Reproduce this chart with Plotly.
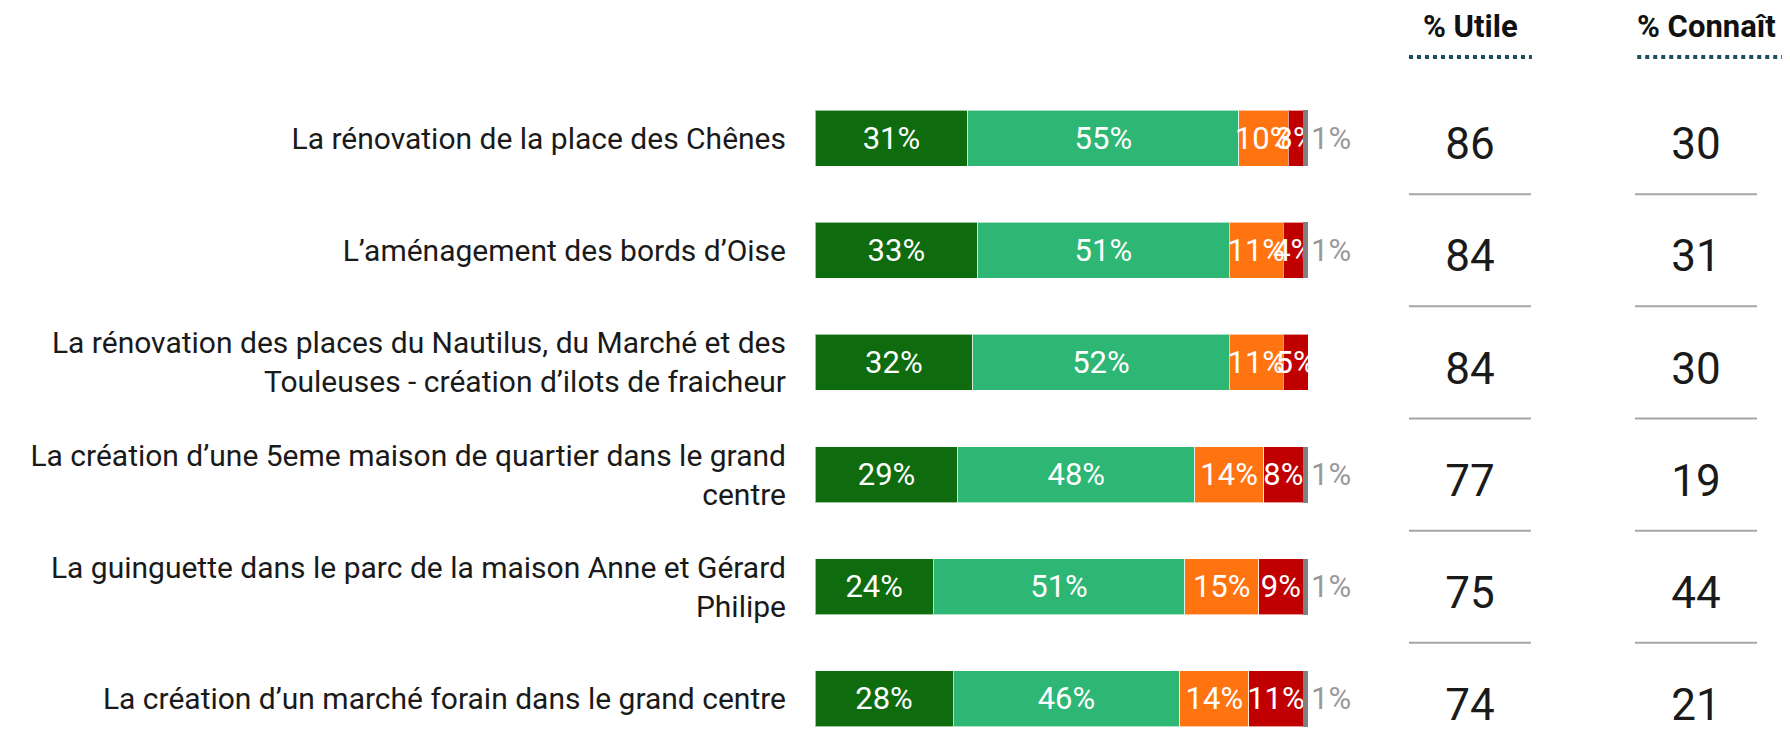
import plotly.graph_objects as go

categories = [
    "La rénovation de la place des Chênes",
    "L’aménagement des bords d’Oise",
    "La rénovation des places du Nautilus, du Marché et des<br>Touleuses - création d’ilots de fraicheur",
    "La création d’une 5eme maison de quartier dans le grand<br>centre",
    "La guinguette dans le parc de la maison Anne et Gérard<br>Philipe",
    "La création d’un marché forain dans le grand centre",
]

tres_utile = [31, 33, 32, 29, 24, 28]
plutot_utile = [55, 51, 52, 48, 51, 46]
plutot_pas_utile = [10, 11, 11, 14, 15, 14]
pas_du_tout_utile = [3, 4, 5, 8, 9, 11]
nsp = [1, 1, 0, 1, 1, 1]

pct_utile = [86, 84, 84, 77, 75, 74]
pct_connait = [30, 31, 30, 19, 44, 21]

columns = ["% Utile", "% Connaît"]

FONT = "Roboto"
W, H = 1782, 748  # page body adds an 8px margin

series = [
    (tres_utile, "#0e6b0e"),
    (plutot_utile, "#2eb674"),
    (plutot_pas_utile, "#ff7411"),
    (pas_du_tout_utile, "#c00000"),
]

fig = go.Figure()
for vals, color in series:
    fig.add_trace(go.Bar(
        y=categories, x=vals, orientation="h",
        marker=dict(color=color, line=dict(width=1, color="rgba(255,255,255,0.6)")),
        text=[f"{v}%" if v else "" for v in vals],
        textposition="inside", insidetextanchor="middle", textangle=0,
        constraintext="none",
        textfont=dict(family=FONT, size=31, color="white"),
        showlegend=False, hoverinfo="skip",
    ))

fig.add_trace(go.Bar(
    y=categories, x=nsp, orientation="h",
    marker=dict(color="#808080", line=dict(width=0)),
    text=[f"{v}%" if v else "" for v in nsp],
    textposition="outside", textangle=0, constraintext="none", cliponaxis=False,
    outsidetextfont=dict(family=FONT, size=31, color="#999999"),
    showlegend=False, hoverinfo="skip",
))

for col, vals in zip(columns, [pct_utile, pct_connait]):
    fig.add_trace(go.Scatter(
        x=[col] * len(categories), y=categories, mode="text",
        text=[str(v) for v in vals],
        textfont=dict(family=FONT, size=44, color="#1a1a1a"),
        xaxis="x2", yaxis="y2", showlegend=False, hoverinfo="skip",
        cliponaxis=False,
    ))

# separators under each value
for i in range(len(categories) - 1):
    for c in range(len(columns)):
        fig.add_shape(type="line", xref="x2", yref="y",
                      x0=c - 0.27, x1=c + 0.27, y0=i + 0.5, y1=i + 0.5,
                      line=dict(color="#a6a6a6", width=2))

# column headers with dotted underlines
for col, xc, x0, x1 in zip(columns, [0.0, 1.045], [-0.27, 0.74], [0.274, 1.42]):
    fig.add_annotation(text=f"<b>{col}</b>", xref="x2", yref="paper",
                       x=xc, y=1.083, yanchor="middle", showarrow=False,
                       font=dict(family=FONT, size=31, color="#111111"))
    fig.add_shape(type="line", xref="x2", yref="paper", x0=x0, x1=x1,
                  y0=1.037, y1=1.037,
                  line=dict(color="#1f4e5f", width=4, dash="dot"))

fig.update_layout(
    width=W, height=H,
    barmode="stack", bargap=0.5,
    paper_bgcolor="white", plot_bgcolor="white",
    margin=dict(l=0, r=0, t=74, b=1, autoexpand=False),
    font=dict(family=FONT, color="#1a1a1a"),
    xaxis=dict(domain=[807 / W, 1300 / W], range=[0, 100],
               visible=False, fixedrange=True, automargin=False),
    xaxis2=dict(domain=[1349 / W, 1], range=[-0.5, 1.416], anchor="y",
                type="category", visible=False, automargin=False),
    yaxis=dict(range=[5.5, -0.5], showgrid=False, zeroline=False,
               showline=False, ticks="", ticklabelstandoff=28, automargin=False,
               tickfont=dict(family=FONT, size=30, color="#1a1a1a")),
    yaxis2=dict(range=[5.41, -0.59], overlaying="y", visible=False,
                automargin=False),
)

fig.write_html("out.html")
